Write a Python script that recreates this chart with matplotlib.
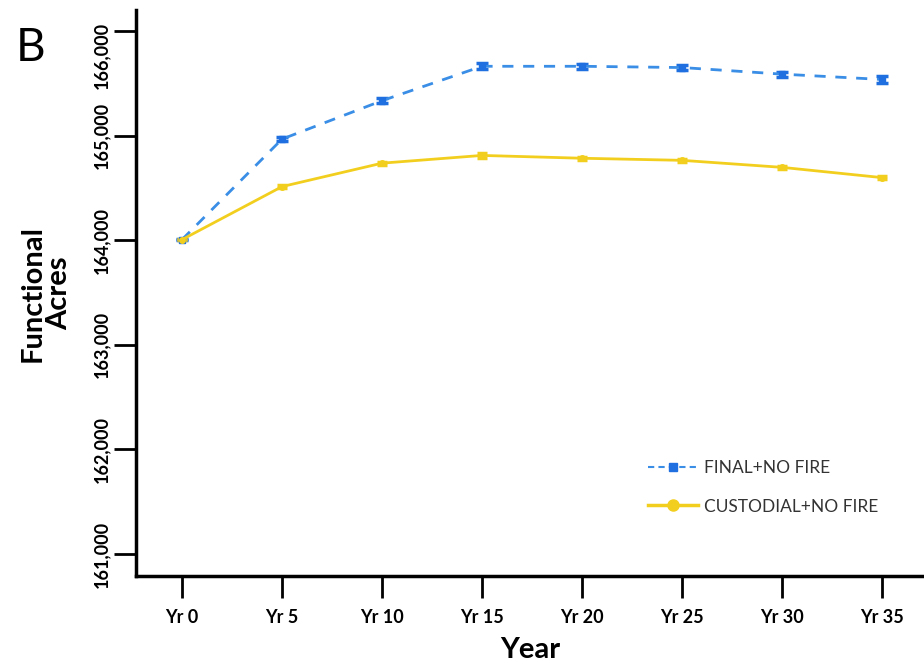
import matplotlib
matplotlib.use("Agg")
import matplotlib.pyplot as plt
from matplotlib.lines import Line2D

plt.rcParams['font.family'] = ['Lato', 'DejaVu Sans']

years = ["Yr 0", "Yr 5", "Yr 10", "Yr 15", "Yr 20", "Yr 25", "Yr 30", "Yr 35"]
final_no_fire = [164005, 164966, 165333, 165662, 165662, 165650, 165587, 165536]
final_err = [8, 22, 22, 28, 25, 25, 25, 30]
custodial_no_fire = [164005, 164512, 164736, 164810, 164783, 164763, 164696, 164598]
custodial_err = [8, 15, 15, 22, 15, 15, 12, 18]
y_ticks = [161000, 162000, 163000, 164000, 165000, 166000]

blue = "#3A8EE6"
blue_dark = "#1F6FE0"
yellow = "#F2CF1F"

fig = plt.figure(figsize=(9.24, 6.68), dpi=100)
ax = fig.add_axes([136 / 924, 1 - 576 / 668, 1 - 136 / 924, (576 - 10) / 668])

x = list(range(len(years)))

ax.errorbar(x, final_no_fire, yerr=final_err, color=blue, ls=(0, (4, 3.5)), lw=2.0,
            marker="s", ms=4, mfc=blue_dark, mec=blue_dark,
            ecolor=blue_dark, elinewidth=2.5, capsize=4, capthick=2.5, zorder=3)
ax.errorbar(x, custodial_no_fire, yerr=custodial_err, color=yellow, ls="-", lw=2.0,
            marker="o", ms=4, mfc=yellow, mec=yellow,
            ecolor=yellow, elinewidth=2.5, capsize=3.5, capthick=2.5, zorder=3)

ax.set_xlim(-0.46, 7.42)
ax.set_ylim(160790, 166200)
ax.set_xticks(x)
ax.set_xticklabels(years, fontsize=13, fontweight="bold")
ax.set_yticks(y_ticks)
# the topmost label is drawn separately, shifted down so it stays inside the figure
ytick_text = [f"{v:,}" for v in y_ticks]
ax.set_yticklabels(ytick_text[:-1] + [""], fontsize=13, fontweight="bold",
                   rotation=90, va="center")
ax.annotate(ytick_text[-1], xy=(0, y_ticks[-1]), xycoords=ax.get_yaxis_transform(),
            xytext=(-19, -18), textcoords="offset points", rotation=90,
            ha="right", va="center", fontsize=13, fontweight="bold")

for s in ["top", "right"]:
    ax.spines[s].set_visible(False)
for s in ["left", "bottom"]:
    ax.spines[s].set_linewidth(2.5)
ax.tick_params(axis="both", length=16, width=2, direction="out", pad=3)
ax.tick_params(axis="x", pad=8)

ax.set_xlabel("Year", fontsize=21, fontweight="bold", labelpad=8)
fig.text(46 / 924, 1 - 293 / 668, "Functional\nAcres", rotation=90, fontsize=21,
         fontweight="bold", ha="center", va="center", linespacing=1.05)
fig.text(16 / 924, 1 - 48 / 668, "B", fontsize=33, ha="left", va="center")

handles = [
    Line2D([0], [0], color=blue, ls=(0, (3, 2)), lw=1.5, marker="s", ms=6,
           mfc=blue_dark, mec=blue_dark),
    Line2D([0], [0], color=yellow, ls="-", lw=2.5, marker="o", ms=8,
           mfc=yellow, mec=yellow),
]
ax.legend(handles, ["FINAL+NO FIRE", "CUSTODIAL+NO FIRE"], loc="upper left",
          bbox_to_anchor=(648 / 924, 1 - 460 / 668), bbox_transform=fig.transFigure,
          frameon=False, fontsize=12.5, borderpad=0, borderaxespad=0,
          handlelength=2.9, labelspacing=1.3, handletextpad=0.35,
          labelcolor="#333333")

fig.savefig("out.png", dpi=100, facecolor="white")
